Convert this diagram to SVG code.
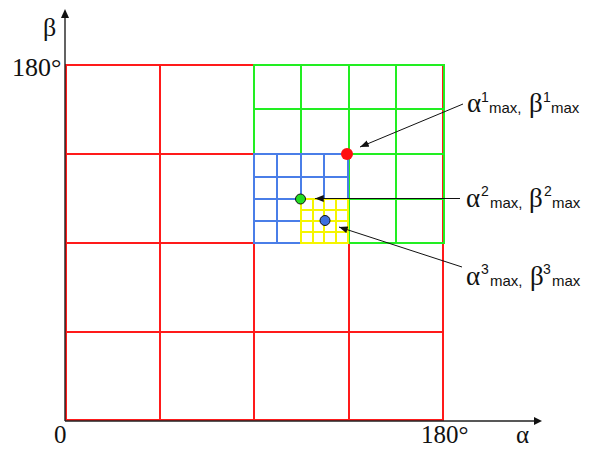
<svg xmlns="http://www.w3.org/2000/svg" width="597" height="449" viewBox="0 0 597 449">
<defs>
<style>
.red{stroke:#ff1a1a;stroke-width:2;fill:none}
.grn{stroke:#22ee22;stroke-width:2;fill:none}
.blu{stroke:#4a7ee8;stroke-width:2;fill:none}
.yel{stroke:#f5f500;stroke-width:2;fill:none}
.axis{stroke:#222;stroke-width:1.4;fill:none}
.conn{stroke:#111;stroke-width:1;fill:none}
.serif{font-family:"Liberation Serif","Times New Roman",serif;fill:#111}
.g{font-family:"Liberation Serif","Times New Roman",serif;font-size:27px}
.s{font-family:"Liberation Sans",Arial,sans-serif;font-size:15px}
.sup{font-family:"Liberation Sans",Arial,sans-serif;font-size:14px}
</style>
<marker id="ah" viewBox="0 0 10 8" refX="10" refY="4" markerWidth="9" markerHeight="7" markerUnits="userSpaceOnUse" orient="auto">
<path d="M0,0 L10,4 L0,8 Z" fill="#111"/>
</marker>
</defs>
<g id="red-grid" class="red">
<rect x="66" y="65" width="377" height="355"/>
<path d="M160,65V420 M254,65V420 M349,65V420 M66,154H443 M66,243H443 M66,332H443"/>
</g>
<g id="green-grid" class="grn">
<rect x="254" y="65" width="190" height="178"/>
<path d="M301,65V243 M349,65V243 M396,65V243 M254,109H444 M254,154H444 M254,199H444"/>
</g>
<g id="blue-grid" class="blu">
<rect x="254" y="154" width="94" height="89"/>
<path d="M277,154V243 M301,154V243 M324,154V243 M254,177H348 M254,199H348 M254,221H348"/>
</g>
<g id="yellow-grid" class="yel">
<rect x="301" y="199" width="47" height="44"/>
<path d="M313,199V243 M324,199V243 M336,199V243 M301,210H348 M301,221H348 M301,232H348"/>
</g>
<g id="axes">
<path class="axis" d="M65,421H535 M65,421V16"/>
<polygon points="542,421 534,417 534,425" fill="#111"/>
<polygon points="65,9 61,18 69,18" fill="#111"/>
<text class="serif" x="43" y="36" font-size="26">β</text>
<text class="serif" x="12" y="76" font-size="26">180°</text>
<text class="serif" x="54" y="443" font-size="25">0</text>
<text class="serif" x="421" y="443" font-size="25">180°</text>
<text class="serif" x="516" y="443" font-size="25">α</text>
</g>
<g id="connectors" class="conn">
<line x1="463" y1="104" x2="360" y2="147" marker-end="url(#ah)"/>
<line x1="460" y1="198.5" x2="315" y2="198.5" marker-end="url(#ah)"/>
<line x1="462" y1="267" x2="339" y2="227" marker-end="url(#ah)"/>
</g>
<g id="max1">
<circle cx="347" cy="154" r="6" fill="#ff1010"/>
</g>
<g id="max2">
<circle cx="300.5" cy="199" r="5" fill="#22dd22" stroke="#111" stroke-width="1"/>
</g>
<g id="max3">
<circle cx="325" cy="220.5" r="5" fill="#3d6fe0" stroke="#111" stroke-width="1"/>
</g>
<g id="label1">
<text fill="#111"><tspan class="g" x="467" y="112">α</tspan><tspan class="sup" x="481" y="102">1</tspan><tspan class="s" x="489" y="113">max,</tspan><tspan class="g" x="529" y="112">β</tspan><tspan class="sup" x="543" y="102">1</tspan><tspan class="s" x="551" y="113">max</tspan></text>
</g>
<g id="label2">
<text fill="#111"><tspan class="g" x="466" y="207">α</tspan><tspan class="sup" x="481" y="196">2</tspan><tspan class="s" x="490" y="208">max,</tspan><tspan class="g" x="529" y="207">β</tspan><tspan class="sup" x="544" y="196">2</tspan><tspan class="s" x="552" y="208">max</tspan></text>
</g>
<g id="label3">
<text fill="#111"><tspan class="g" x="466" y="285">α</tspan><tspan class="sup" x="481" y="274">3</tspan><tspan class="s" x="490" y="286">max,</tspan><tspan class="g" x="530" y="285">β</tspan><tspan class="sup" x="543" y="274">3</tspan><tspan class="s" x="552" y="286">max</tspan></text>
</g>
</svg>
